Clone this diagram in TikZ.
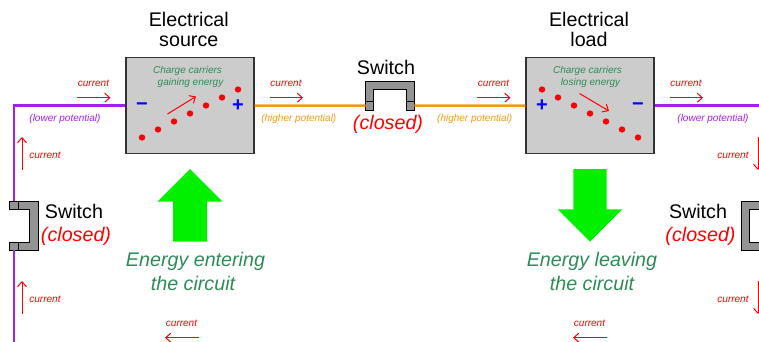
\documentclass[tikz,border=0pt]{standalone}
\usepackage{fontspec}
\setmainfont{Liberation Sans}
\usetikzlibrary{arrows.meta}
\definecolor{wirepurple}{HTML}{A020F0}
\definecolor{wireorange}{HTML}{F09A14}
\definecolor{textgreen}{HTML}{2E8B57}
\definecolor{arrowgreen}{HTML}{00F000}
\tikzset{
    bigtext/.style={font=\fontsize{19.7}{24}\selectfont,align=center,inner sep=0pt},
    smalltext/.style={font=\fontsize{10}{12}\selectfont\itshape,align=center,inner sep=0pt},
    curtext/.style={smalltext,text=red},
    curarrow/.style={red,line width=1pt,-{Straight Barb[length=5pt,width=9pt]}},
    devbox/.style={draw=black!80,fill=black!20,line width=1.3pt,minimum width=128pt,minimum height=96pt,inner sep=0pt},
    signtext/.style={font=\fontsize{20}{24}\selectfont\bfseries,text=blue,inner sep=0pt},
    purplewire/.style={wirepurple,line width=2.5pt},
    orangewire/.style={wireorange,line width=2.5pt},
    bigarrow/.style={fill=arrowgreen},
    pics/closedsw/.style={code={
        \draw[fill=black!42,line width=1pt] (-24.3,0)--(-24.3,-28.5)--(24.3,-28.5)--(24.3,0)--(16.3,0)--(16.3,-20.3)--(-16.3,-20.3)--(-16.3,0)--cycle;
        \draw[line width=1pt] (-24.3,-9)--(-16.3,-9) (24.3,-9)--(16.3,-9);
        \coordinate (-a) at (-24.3,-4.5);
        \coordinate (-b) at (24.3,-4.5);
    }}
}
\begin{document}
\begin{tikzpicture}[x=1pt,y=-1pt]
    \useasboundingbox (0,0) rectangle (759,341);
    \clip (0,0) rectangle (759,341);
    % boxes
    \node[devbox] (source) at (190,105.7) {};
    \node[devbox] (load) at (590,105.7) {};
    \node[bigtext] (sourcetitle) at (188.8,29.5) {Electrical\\[-3.5pt]source};
    \node[bigtext] (loadtitle) at (589,29.5) {Electrical\\[-3.5pt]load};
    % wires
    \pic (swtop) at (390,110) {closedsw};
    \pic[rotate=-90] (swleft) at (9.5,225.7) {closedsw};
    \pic[rotate=90] (swright) at (770,225.7) {closedsw};
    \coordinate (cornerl) at (14,105.7);
    \coordinate (cornerr) at (765.5,105.7);
    \coordinate (endl) at (14,345);
    \coordinate (endr) at (765.5,345);
    \draw[purplewire] (source.west)--(cornerl)--(swleft-a);
    \draw[purplewire] (swleft-b)--(endl);
    \draw[purplewire] (load.east)--(cornerr)--(swright-b);
    \draw[purplewire] (swright-a)--(endr);
    \draw[orangewire] (source.east)--(swtop-a);
    \draw[orangewire] (swtop-b)--(load.west);
    % switch labels
    \node[bigtext] (swtoptext) at (386,67) {Switch};
    \node[bigtext,font=\fontsize{19.7}{24}\selectfont\itshape,text=red] (swtopstate) at (388,124) {(closed)};
    \node[bigtext] (swlefttext) at (74,211) {Switch};
    \node[bigtext,font=\fontsize{19.7}{24}\selectfont\itshape,text=red] (swleftstate) at (76,236) {(closed)};
    \node[bigtext] (swrighttext) at (698,211) {Switch};
    \node[bigtext,font=\fontsize{19.7}{24}\selectfont\itshape,text=red] (swrightstate) at (700.5,236) {(closed)};
    % charge carriers
    \foreach \i in {0,...,6}{
        \fill[red] (142+16*\i,137.5-8*\i) circle (3.2);
        \fill[red] (542+16*\i,89.5+8*\i) circle (3.2);
    }
    \node[signtext] (srcminus) at (142,106.5) {−};
    \node[signtext] (srcplus) at (238,106) {+};
    \node[signtext] (loadplus) at (542,106) {+};
    \node[signtext] (loadminus) at (638,106.5) {−};
    \node[smalltext,text=textgreen] (srcnote) at (189,77) {Charge carriers\hspace*{3pt}\\\hspace*{3pt}gaining energy};
    \node[smalltext,text=textgreen] (loadnote) at (589,77) {Charge carriers\hspace*{3pt}\\\hspace*{3pt}losing energy};
    \coordinate (srca) at (167.5,114);
    \coordinate (srcb) at (196,96.5);
    \coordinate (loada) at (579.5,93.5);
    \coordinate (loadb) at (609,111);
    \draw[curarrow] (srca)--(srcb);
    \draw[curarrow] (loada)--(loadb);
    % current along the top
    \foreach \n/\x in {a/93.5,b/286,c/493.5,d/686}{
        \node[curtext] (cur\n) at (\x,83) {current};
        \coordinate (cur\n s) at (\x-16.5,97.7);
        \coordinate (cur\n e) at (\x+17,97.7);
        \draw[curarrow] (cur\n s)--(cur\n e);
    }
    % current along the bottom
    \foreach \n/\x in {e/181.5,f/589.5}{
        \node[curtext] (cur\n) at (\x,323) {current};
        \coordinate (cur\n s) at (\x+17,337.7);
        \coordinate (cur\n e) at (\x-16.5,337.7);
        \draw[curarrow] (cur\n s)--(cur\n e);
    }
    % current along the sides
    \foreach \n/\y in {g/137,h/281}{
        \node[curtext] (cur\n) at (45,\y+18) {current};
        \coordinate (cur\n s) at (22,\y+33);
        \coordinate (cur\n e) at (22,\y);
        \draw[curarrow] (cur\n s)--(cur\n e);
        \node[curtext] (cur\n r) at (733,\y+18) {current};
        \coordinate (cur\n rs) at (758,\y);
        \coordinate (cur\n re) at (758,\y+33);
        \draw[curarrow] (cur\n rs)--(cur\n re);
    }
    % potentials
    \node[smalltext,text=wirepurple] (potla) at (65,118.5) {(lower potential)};
    \node[smalltext,text=wireorange] (potha) at (298.8,118.5) {(higher potential)};
    \node[smalltext,text=wireorange] (pothb) at (474.7,118.5) {(higher potential)};
    \node[smalltext,text=wirepurple] (potlb) at (713,118.5) {(lower potential)};
    % energy arrows
    \fill[bigarrow] (190,169)--(222.5,201.7)--(207,201.7)--(207,241.7)--(173,241.7)--(173,201.7)--(157.5,201.7)--cycle;
    \fill[bigarrow] (590,241.7)--(622.3,209.3)--(606.7,209.3)--(606.7,169)--(573.3,169)--(573.3,209.3)--(557.7,209.3)--cycle;
    \node[bigtext,font=\fontsize{19.7}{24}\selectfont\itshape,text=textgreen] (enerin) at (195.5,271) {Energy entering\\the circuit\hspace*{5pt}};
    \node[bigtext,font=\fontsize{19.7}{24}\selectfont\itshape,text=textgreen] (enerout) at (592,271) {Energy leaving\\the circuit};
\end{tikzpicture}
\end{document}
